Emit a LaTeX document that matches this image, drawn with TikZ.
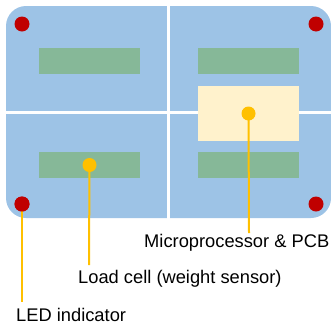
\documentclass[tikz,border=0pt]{standalone}
\usepackage{fontspec}
\setmainfont{Liberation Sans}
\definecolor{boardblue}{HTML}{9DC3E6}
\definecolor{cellgreen}{HTML}{86B898}
\definecolor{pcbbeige}{HTML}{FFF2CC}
\definecolor{ledred}{HTML}{C00000}
\definecolor{callout}{HTML}{FFC000}
\begin{document}
\begin{tikzpicture}[x=1pt,y=-1pt,
  board/.style={fill=boardblue, draw=none, rounded corners=20pt},
  gap/.style={draw=white, line width=3.5pt},
  loadcell/.style={fill=cellgreen, draw=none, inner sep=0pt, minimum width=101pt, minimum height=26pt},
  pcb/.style={fill=pcbbeige, draw=none, inner sep=0pt, minimum width=101pt, minimum height=55pt},
  led/.style={circle, fill=ledred, draw=none, inner sep=0pt, minimum size=15pt},
  pin/.style={circle, fill=callout, draw=none, inner sep=0pt, minimum size=14pt},
  leader/.style={draw=callout, line width=2pt},
  lbl/.style={font=\fontsize{18.3pt}{21pt}\selectfont, inner sep=0pt, text=black}]
\useasboundingbox (0,0) rectangle (331,327);
\fill[board] (6,6) rectangle (331,218);
\draw[gap] (168.7,5) -- (168.7,219);
\draw[gap] (5,112.5) -- (332,112.5);
% load cells
\node[loadcell] (lc1) at (89.5,61) {};
\node[loadcell] (lc2) at (89.5,165) {};
\node[loadcell] (lc3) at (248.5,61) {};
\node[loadcell] (lc4) at (248.5,165) {};
% pcb
\node[pcb] (pcb) at (248.5,113.5) {};
% LEDs
\node[led] (led1) at (22,24) {};
\node[led] (led2) at (316,24) {};
\node[led] (led3) at (22,204) {};
\node[led] (led4) at (316,204) {};
% labels
\node[lbl, anchor=base west] (tmicro) at (144,247) {Microprocessor \& PCB};
\node[lbl, anchor=base west] (tload) at (78,283) {Load cell (weight sensor)};
\node[lbl, anchor=base west] (tled) at (16,321.5) {LED indicator};
\coordinate (emicro) at (249,233);
\coordinate (eload) at (89,265);
\coordinate (eled) at (22,302);
% leaders
\draw[leader] (led3.center) -- (eled);
\draw[leader] (lc2.center) -- (eload);
\draw[leader] (pcb.center) -- (emicro);
\node[pin] (pmicro) at (pcb.center) {};
\node[pin] (pload) at (lc2.center) {};
\node[led] at (led3) {};
\end{tikzpicture}
\end{document}
